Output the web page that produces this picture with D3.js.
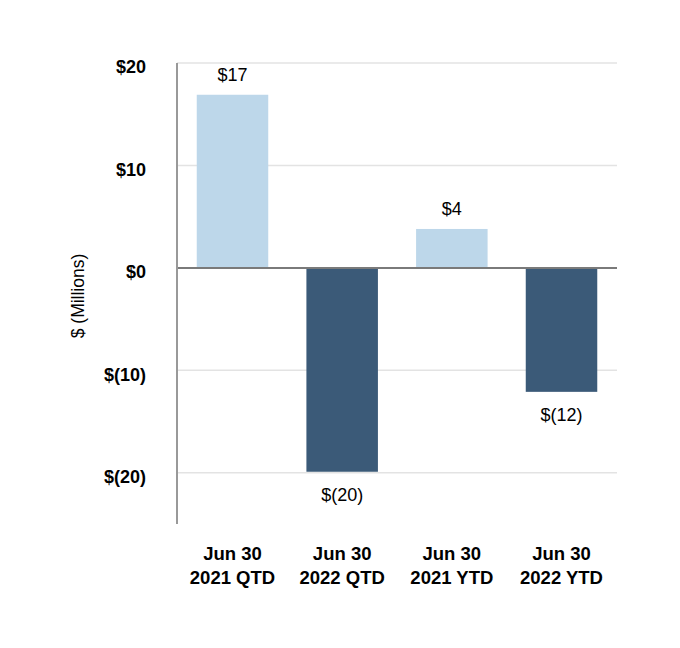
<!DOCTYPE html>
<html>
<head>
<meta charset="utf-8">
<script src="https://cdn.jsdelivr.net/npm/d3@7"></script>
<style>
  body { margin: 0; background: #fff; }
  text { font-family: "Liberation Sans", Arial, sans-serif; }
</style>
</head>
<body>
<div class="chart"></div>
<script>
const width = 680;
const height = 648;

// data
const categories = [["Jun 30", "2021 QTD"], ["Jun 30", "2022 QTD"], ["Jun 30", "2021 YTD"], ["Jun 30", "2022 YTD"]];
const values = [16.9, -19.9, 3.8, -12.1];
const valueLabels = ["$17", "$(20)", "$4", "$(12)"];
const tickValues = [20, 10, 0, -10, -20];
const tickLabels = ["$20", "$10", "$0", "$(10)", "$(20)"];

const plotLeft = 177, plotRight = 617, plotTop = 63, plotBottom = 524;

const svg = d3.select(".chart").append("svg")
    .attr("width", width).attr("height", height);

const y = d3.scaleLinear().domain([-25, 20]).range([plotBottom, plotTop]);
const x = d3.scaleBand().domain(d3.range(categories.length))
    .range([plotLeft, plotRight]).paddingInner(0.348).paddingOuter(0.18);

// gridlines
svg.append("g").selectAll("line")
    .data(tickValues.filter(d => d !== 0))
    .join("line")
    .attr("x1", plotLeft).attr("x2", plotRight)
    .attr("y1", d => y(d)).attr("y2", d => y(d))
    .attr("stroke", "#e3e3e3").attr("stroke-width", 1.5);

// bars
svg.append("g").selectAll("rect")
    .data(values)
    .join("rect")
    .attr("x", (d, i) => x(i))
    .attr("width", x.bandwidth())
    .attr("y", d => y(Math.max(0, d)))
    .attr("height", d => Math.abs(y(d) - y(0)))
    .attr("fill", d => d >= 0 ? "#bdd7ea" : "#3b5a78");

// zero line
svg.append("line")
    .attr("x1", plotLeft).attr("x2", plotRight)
    .attr("y1", y(0)).attr("y2", y(0))
    .attr("stroke", "#7a7a7a").attr("stroke-width", 2);

// y axis line
svg.append("line")
    .attr("x1", plotLeft).attr("x2", plotLeft)
    .attr("y1", plotTop).attr("y2", plotBottom)
    .attr("stroke", "#999").attr("stroke-width", 2);

// tick labels
svg.append("g").selectAll("text")
    .data(tickValues)
    .join("text")
    .attr("x", 146)
    .attr("y", d => y(d) + 4)
    .attr("dy", "0.35em")
    .attr("text-anchor", "end")
    .attr("font-size", 18).attr("font-weight", "bold")
    .text((d, i) => tickLabels[i]);

// y label
svg.append("text")
    .attr("transform", "translate(84,296) rotate(-90)")
    .attr("text-anchor", "middle")
    .attr("font-size", 17.5)
    .text("$ (Millions)");

// value labels
svg.append("g").selectAll("text")
    .data(values)
    .join("text")
    .attr("x", (d, i) => x(i) + x.bandwidth() / 2)
    .attr("y", d => d >= 0 ? y(d) - 20 : y(d) + 23)
    .attr("dy", "0.35em")
    .attr("text-anchor", "middle")
    .attr("font-size", 18)
    .text((d, i) => valueLabels[i]);

// category labels
const cat = svg.append("g").selectAll("text")
    .data(categories)
    .join("text")
    .attr("text-anchor", "middle")
    .attr("font-size", 18.5).attr("font-weight", "bold");
cat.selectAll("tspan")
    .data((d, i) => d.map(t => ({t, i})))
    .join("tspan")
    .attr("x", d => x(d.i) + x.bandwidth() / 2)
    .attr("y", (d, j) => 560 + j * 24)
    .text(d => d.t);
</script>
</body>
</html>
